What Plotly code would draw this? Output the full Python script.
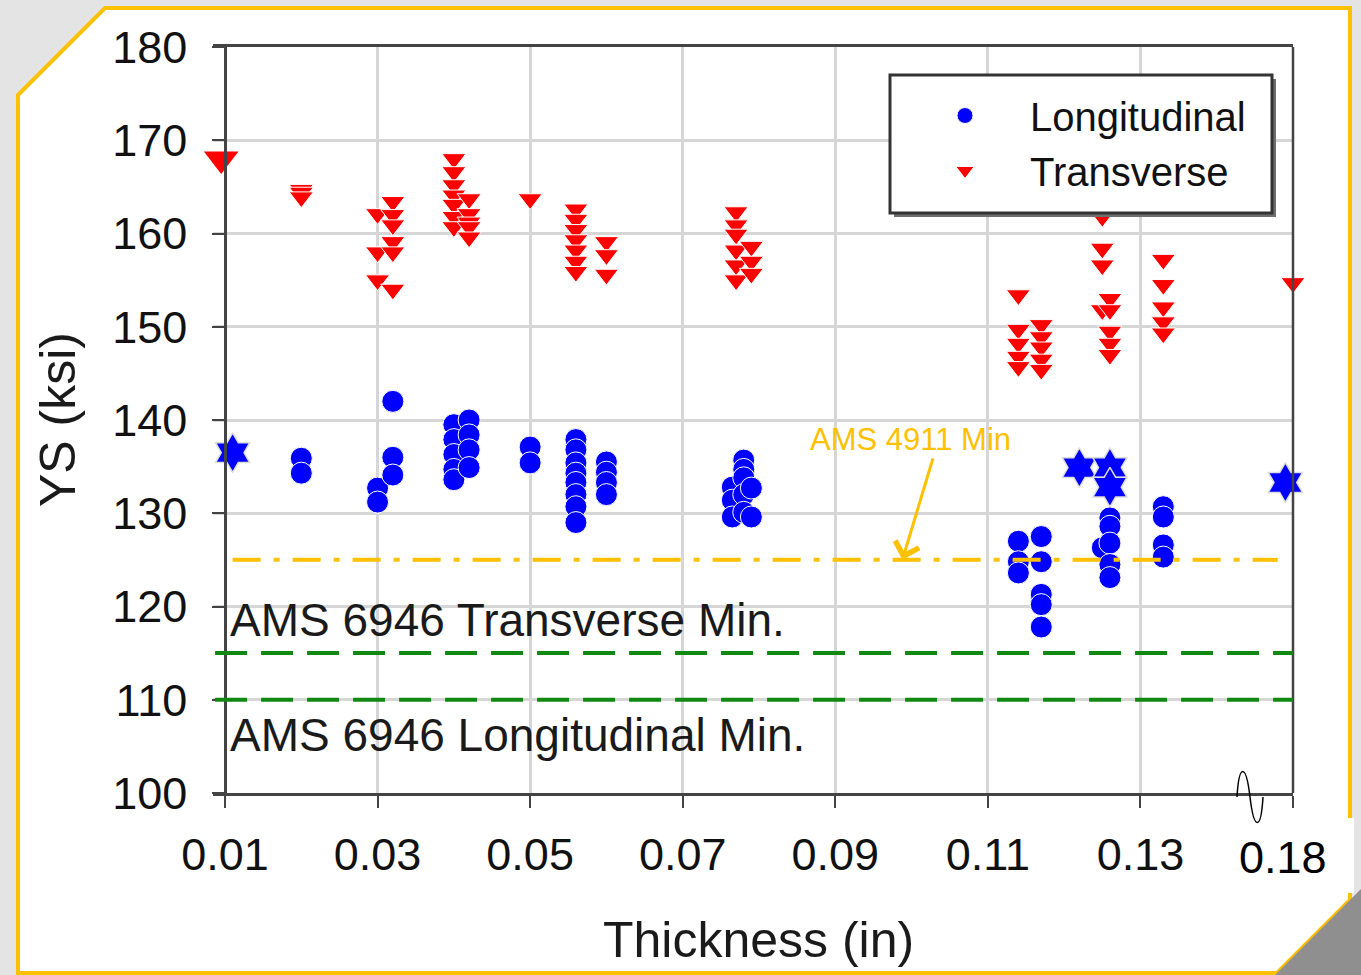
import plotly.graph_objects as go

# ---------------- data (thickness in inches, YS in ksi) ----------------
trans_thk = [0.02, 0.02, 0.02,
             0.03, 0.03, 0.03,
             0.032, 0.032, 0.032, 0.032, 0.032, 0.032,
             0.04, 0.04, 0.04, 0.04, 0.04, 0.04, 0.04,
             0.042, 0.042, 0.042, 0.042, 0.042,
             0.05,
             0.056, 0.056, 0.056, 0.056, 0.056, 0.056, 0.056,
             0.06, 0.06, 0.06,
             0.077, 0.077, 0.077, 0.077, 0.077, 0.077,
             0.079, 0.079, 0.079,
             0.114, 0.114, 0.114, 0.114, 0.114,
             0.117, 0.117, 0.117, 0.117, 0.117,
             0.125, 0.125, 0.125, 0.125,
             0.126, 0.126, 0.126, 0.126, 0.126,
             0.133, 0.133, 0.133, 0.133, 0.133,
             0.18]
trans_ys = [164.7, 164.4, 163.9,
            162.1, 158.0, 155.0,
            163.4, 162.0, 160.9, 159.1, 158.0, 154.0,
            168.0, 166.6, 165.2, 164.1, 163.1, 161.8, 160.7,
            163.7, 162.1, 161.2, 160.7, 159.6,
            163.7,
            162.6, 161.5, 160.4, 159.3, 158.2, 157.0, 155.9,
            159.1, 157.7, 155.6,
            162.3, 160.9, 159.9, 158.2, 156.6, 155.0,
            158.6, 157.0, 155.7,
            153.4, 149.7, 148.2, 146.8, 145.7,
            150.2, 148.9, 147.8, 146.5, 145.4,
            161.8, 158.4, 156.6, 151.8,
            153.0, 151.8, 149.5, 148.2, 147.0,
            157.2, 154.5, 152.1, 150.5, 149.3,
            154.7]

long_thk = [0.02, 0.02,
            0.03, 0.03,
            0.032, 0.032, 0.032,
            0.04, 0.04, 0.04, 0.04, 0.04,
            0.042, 0.042, 0.042, 0.042,
            0.05, 0.05,
            0.056, 0.056, 0.056, 0.056, 0.056, 0.056, 0.056, 0.056,
            0.06, 0.06, 0.06, 0.06,
            0.0765, 0.0765, 0.0765,
            0.078, 0.078, 0.078, 0.078, 0.078,
            0.079, 0.079,
            0.114, 0.114, 0.114,
            0.117, 0.117, 0.117, 0.117, 0.117,
            0.125,
            0.126, 0.126, 0.126, 0.126, 0.126,
            0.133, 0.133, 0.133, 0.133]
long_ys = [135.9, 134.3,
           132.7, 131.2,
           142.0, 136.0, 134.1,
           139.5, 137.9, 136.3, 134.7, 133.6,
           140.0, 138.4, 136.8, 134.9,
           137.1, 135.4,
           137.9, 136.8, 135.4, 134.3, 133.3, 132.0, 130.7, 129.0,
           135.5, 134.4, 133.3, 132.0,
           132.8, 131.4, 129.6,
           135.7, 134.7, 133.8, 132.0, 130.1,
           132.7, 129.6,
           127.0, 124.8, 123.6,
           127.5, 124.8, 121.3, 120.2, 117.8,
           126.3,
           129.5, 128.6, 126.8, 124.5, 123.1,
           130.7, 129.6, 126.6, 125.3]

# highlighted samples
trans_special_thk = [0.0095]
trans_special_ys = [168.0]
long_special_thk = [0.011, 0.122, 0.126, 0.126, 0.179]
long_special_ys = [136.5, 134.9, 134.9, 132.8, 133.3]

# specification minima (ksi)
ams4911_min = 125
ams6946_trans_min = 115
ams6946_long_min = 110

x_tick_vals = [0.01, 0.03, 0.05, 0.07, 0.09, 0.11, 0.13, 0.15]
x_tick_text = ["0.01", "0.03", "0.05", "0.07", "0.09", "0.11", "0.13", ""]
y_tick_vals = [100, 110, 120, 130, 140, 150, 160, 170, 180]

# ---------------- helpers ----------------
W, H = 1361, 975
AXL = 225                      # pixel of the left (y) axis line, x = 0.01
ML, MR, MT, MB = 213, 68, 47, 182
PW, PH = W - ML - MR, H - MT - MB
X_LO, X_HI = 0.01, 0.15
SCALE = (W - MR - AXL) / (X_HI - X_LO)      # px per inch
X_START = X_LO - (AXL - ML) / SCALE


def brk(t):
    # axis break: values beyond 0.15 in are drawn 0.03 in to the left
    return t - 0.03 if t > 0.15 else t


def px(x):
    return (x - ML) / PW


def py(y):
    return (H - MB - y) / PH


FONT = "Liberation Sans, Arial, sans-serif"
BLUE = "#0000FF"
RED = "#FF0000"
GOLD = "#FFC000"
GREEN = "#118811"
AXC = "#444444"

fig = go.Figure()

fig.add_trace(go.Scatter(
    x=[brk(t) for t in long_thk], y=long_ys, mode="markers", name="Longitudinal&nbsp;&nbsp;&nbsp;",
    cliponaxis=False,
    marker=dict(symbol="circle", size=22, color=BLUE, line=dict(color="white", width=1))))
fig.add_trace(go.Scatter(
    x=[brk(t) for t in trans_thk], y=trans_ys, mode="markers", name="Transverse",
    cliponaxis=False,
    marker=dict(symbol="triangle-down", size=21, color=RED, line=dict(color="white", width=1))))
fig.add_trace(go.Scatter(
    x=[brk(t) for t in long_special_thk], y=long_special_ys, mode="markers", showlegend=False,
    cliponaxis=False,
    marker=dict(symbol="hexagram", size=30, color=BLUE, line=dict(color="#dddddd", width=1.5))))
fig.add_trace(go.Scatter(
    x=[brk(t) for t in trans_special_thk], y=trans_special_ys, mode="markers", showlegend=False,
    cliponaxis=False,
    marker=dict(symbol="triangle-down", size=30, color=RED)))

shapes = []
# outer frame (page decoration)
frame = [(18, 95), (105, 8), (1350, 8), (1350, 900), (1277, 973), (18, 973)]
path = "M " + " L ".join(f"{px(a):.5f},{py(b):.5f}" for a, b in frame) + " Z"
shapes.append(dict(type="path", xref="paper", yref="paper", path=path,
                   fillcolor="white", line=dict(color=GOLD, width=4), layer="below"))
corner = [(1352, 898), (1361, 889), (1361, 975), (1275, 975)]
path = "M " + " L ".join(f"{px(a):.5f},{py(b):.5f}" for a, b in corner) + " Z"
shapes.append(dict(type="path", xref="paper", yref="paper", path=path,
                   fillcolor="#8f8f8f", line=dict(width=0), layer="below"))
shapes.append(dict(type="rect", xref="paper", yref="paper", x0=px(1300), x1=px(1354),
                   y0=py(893), y1=py(818), fillcolor="white", line=dict(width=0), layer="below"))

# right-hand frame line of the plot area
shapes.append(dict(type="line", xref="paper", yref="paper", x0=1, x1=1, y0=0, y1=1,
                   line=dict(color=AXC, width=2.5), layer="above"))

# reference lines
shapes.append(dict(type="line", xref="x", yref="y", x0=0.011, x1=0.148,
                   y0=ams4911_min, y1=ams4911_min, layer="above",
                   line=dict(color=GOLD, width=4, dash="28px,13px,6px,13px")))
for v in (ams6946_trans_min, ams6946_long_min):
    shapes.append(dict(type="line", xref="x", yref="y", x0=0.0087, x1=0.1503,
                       y0=v, y1=v, layer="above",
                       line=dict(color=GREEN, width=4, dash="32px,14px")))

# legend box with shadow
shapes.append(dict(type="rect", xref="paper", yref="paper", x0=px(894), x1=px(1276),
                   y0=py(217), y1=py(79), fillcolor="#6e6e6e", line=dict(width=0), layer="above"))
shapes.append(dict(type="rect", xref="paper", yref="paper", x0=px(890), x1=px(1272),
                   y0=py(213), y1=py(75), fillcolor="white",
                   line=dict(color="#333333", width=3), layer="above"))

# axis break symbol
bx, by = 1250, 797
wave = (f"M {px(bx-13):.5f},{py(by):.5f} "
        f"C {px(bx-11):.5f},{py(by-34):.5f} {px(bx-4):.5f},{py(by-34):.5f} {px(bx):.5f},{py(by):.5f} "
        f"C {px(bx+4):.5f},{py(by+34):.5f} {px(bx+11):.5f},{py(by+34):.5f} {px(bx+13):.5f},{py(by):.5f}")
shapes.append(dict(type="path", xref="paper", yref="paper", path=wave,
                   line=dict(color="black", width=1.5), layer="above"))

annotations = [
    dict(text="AMS 6946 Transverse Min.", xref="paper", yref="paper", x=px(228), y=py(620),
         xanchor="left", yanchor="middle", showarrow=False, font=dict(family=FONT, size=46, color="#1a1a1a")),
    dict(text="AMS 6946 Longitudinal Min.", xref="paper", yref="paper", x=px(228), y=py(735),
         xanchor="left", yanchor="middle", showarrow=False, font=dict(family=FONT, size=46, color="#1a1a1a")),
    dict(text="AMS 4911 Min", xref="paper", yref="paper", x=px(910), y=py(439),
         xanchor="center", yanchor="middle", showarrow=False, font=dict(family=FONT, size=31, color=GOLD)),
    dict(text="", x=0.0988, y=ams4911_min, xref="x", yref="y", showarrow=True,
         ax=31, ay=-103, arrowhead=4, arrowsize=1.6, arrowwidth=3, arrowcolor=GOLD, standoff=0),
    dict(text="YS (ksi)", xref="paper", yref="paper", x=px(58), y=py(420), textangle=-90,
         xanchor="center", yanchor="middle", showarrow=False, font=dict(family=FONT, size=50, color="#1a1a1a")),
    dict(text="Thickness (in)", xref="paper", yref="paper", x=px(758), y=py(940),
         xanchor="center", yanchor="middle", showarrow=False, font=dict(family=FONT, size=50, color="#1a1a1a")),
    dict(text="0.18", xref="paper", yref="paper", x=px(1283), y=py(857),
         xanchor="center", yanchor="middle", showarrow=False, font=dict(family=FONT, size=45, color="black")),
]

fig.update_layout(
    width=W, height=H,
    margin=dict(l=ML, r=MR, t=MT, b=MB, pad=0),
    paper_bgcolor="#e4e4e4", plot_bgcolor="white",
    shapes=shapes, annotations=annotations,
    legend=dict(x=px(900), y=py(83), xanchor="left", yanchor="top",
                bgcolor="rgba(0,0,0,0)", borderwidth=0,
                font=dict(family=FONT, size=40, color="#111111"),
                itemwidth=120, tracegroupgap=0),
    xaxis=dict(range=[X_START, X_HI], tickvals=x_tick_vals, ticktext=x_tick_text,
               showgrid=True, gridcolor="#d6d6d6", gridwidth=3,
               ticks="outside", ticklen=12, tickwidth=2, tickcolor=AXC,
               showline=True, linecolor=AXC, linewidth=2.5, mirror=True, zeroline=False,
               tickfont=dict(family=FONT, size=45, color="#111111"), ticklabelstandoff=8),
    yaxis=dict(range=[100, 180], tickvals=y_tick_vals, anchor="free", position=px(AXL),
               showgrid=True, gridcolor="#d6d6d6", gridwidth=3,
               ticks="outside", ticklen=12, tickwidth=2, tickcolor=AXC,
               showline=True, linecolor=AXC, linewidth=2.5, mirror=True, zeroline=False,
               tickfont=dict(family=FONT, size=45, color="#111111"), ticklabelstandoff=16),
)

fig.write_html("out.html", config={"displayModeBar": False},
               post_script="document.body.style.margin='0';")
